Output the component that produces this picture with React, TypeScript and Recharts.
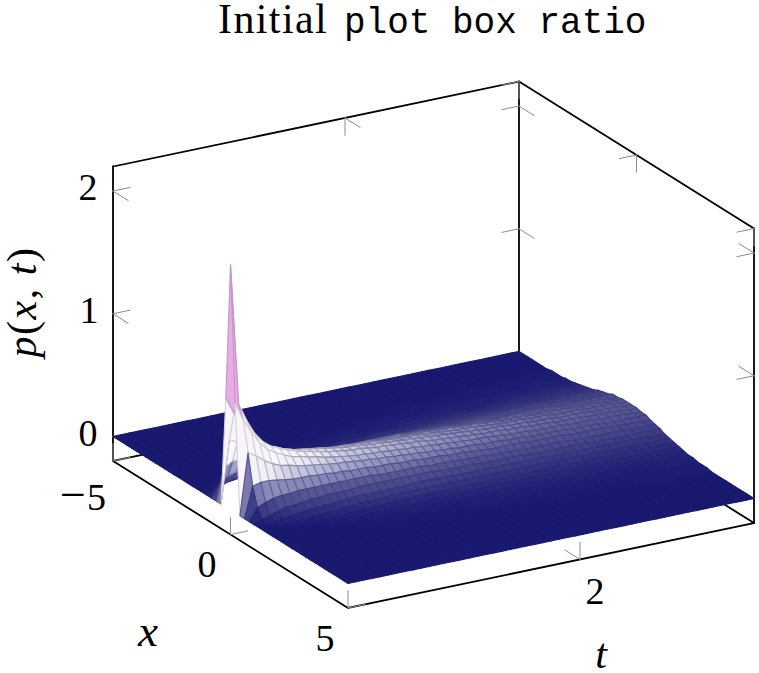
import { Scatter, ScatterChart, XAxis, YAxis } from 'recharts'

const WIDTH = 759
const HEIGHT = 673

const xTicks = [-5, 0, 5]
const tTicks = [2]
const zTicks = [0, 1, 2]

// grid of the surface
const xValues = [
  -5, -4.8, -4.6, -4.4, -4.2, -4, -3.8, -3.6, -3.4, -3.2, -3, -2.8, -2.6, -2.4, -2.2, -2, -1.8,
  -1.6, -1.4, -1.2, -1, -0.8, -0.6, -0.4, -0.2, 0, 0.2, 0.4, 0.6, 0.8, 1, 1.2, 1.4, 1.6, 1.8,
  2, 2.2, 2.4, 2.6, 2.8, 3, 3.2, 3.4, 3.6, 3.8, 4, 4.2, 4.4, 4.6, 4.8, 5,
]
const tValues = [
  0, 0.07, 0.14, 0.21, 0.28, 0.35, 0.42, 0.49, 0.56, 0.63,
  0.7, 0.77, 0.84, 0.91, 0.98, 1.05, 1.12, 1.19, 1.26, 1.33,
  1.4, 1.47, 1.54, 1.61, 1.68, 1.75, 1.82, 1.89, 1.96, 2.03,
  2.1, 2.17, 2.24, 2.31, 2.38, 2.45, 2.52, 2.59, 2.66, 2.73,
  2.8, 2.87, 2.94, 3.01, 3.08, 3.15, 3.22, 3.29, 3.36, 3.43, 3.5,
]

// p(x,t), in hundredths, one list per x
const flat = tValues.map(() => 0)
const pM36 = [0,0,0,0,0,0,0,0,0,0, 0,0,0,0,0,0,0,0,0,0, 0,0,0,0,0,0,0,0,0,0, 0,0,0,0,0,0,0,0,0,0, 0,0,0,0,0,1,1,1,1,1,1]
const pM34 = [0,0,0,0,0,0,0,0,0,0, 0,0,0,0,0,0,0,0,0,0, 0,0,0,0,0,0,0,0,0,0, 0,0,0,0,0,0,0,0,1,1, 1,1,1,1,1,1,1,1,1,1,1]
const pM32 = [0,0,0,0,0,0,0,0,0,0, 0,0,0,0,0,0,0,0,0,0, 0,0,0,0,0,0,0,0,0,0, 0,1,1,1,1,1,1,1,1,1, 1,1,1,1,1,1,1,1,1,1,1]
const pM30 = [0,0,0,0,0,0,0,0,0,0, 0,0,0,0,0,0,0,0,0,0, 0,0,0,0,0,1,1,1,1,1, 1,1,1,1,1,1,1,1,1,1, 1,1,1,1,1,1,2,2,2,2,2]
const pM28 = [0,0,0,0,0,0,0,0,0,0, 0,0,0,0,0,0,0,0,0,0, 0,1,1,1,1,1,1,1,1,1, 1,1,1,1,2,2,2,2,2,2, 2,2,2,2,2,2,2,2,2,2,2]
const pM26 = [0,0,0,0,0,0,0,0,0,0, 0,0,0,0,0,0,0,0,1,1, 1,1,1,1,1,1,2,2,2,2, 2,2,2,2,2,2,2,2,2,2, 2,3,3,3,3,3,3,3,3,3,3]
const pM24 = [0,0,0,0,0,0,0,0,0,0, 0,0,0,1,1,1,1,1,1,1, 2,2,2,2,2,2,2,2,3,3, 3,3,3,3,3,3,3,3,3,3, 3,3,4,4,4,4,4,4,4,4,4]
const pM22 = [0,0,0,0,0,0,0,0,0,0, 1,1,1,1,1,1,1,1,2,2, 2,2,2,2,3,3,3,3,4,4, 4,4,4,4,4,4,4,4,4,5, 5,5,5,5,5,5,5,5,5,5,5]
const pM20 = [0,0,0,0,0,0,0,0,1,1, 1,1,2,2,2,2,3,3,3,4, 4,4,4,5,5,5,5,5,5,5, 5,5,6,6,6,6,6,6,6,6, 6,6,6,6,6,6,6,6,6,6,6]
const pM18 = [0,0,0,0,0,0,1,1,1,1, 2,2,3,3,4,4,4,5,5,5, 5,5,6,6,6,6,6,6,6,7, 7,7,7,7,7,7,7,7,7,7, 7,7,7,7,7,7,7,7,7,7,7]
const pM16 = [0,0,0,0,1,1,2,2,3,3, 4,4,5,5,6,6,6,7,7,7, 8,8,8,8,8,8,8,8,9,9, 9,9,9,9,9,9,9,9,9,9, 9,9,9,9,9,9,9,9,9,9,9]
const pM14 = [0,0,0,1,2,3,4,5,5,6, 7,7,8,8,9,9,9,10,10,10, 10,10,11,11,11,11,11,11,11,11, 11,11,11,11,11,11,11,11,11,11, 11,11,11,11,10,10,10,10,10,10,10]
const pM12 = [0,1,2,4,5,6,7,8,9,9, 10,10,11,11,12,12,12,13,13,13, 13,13,13,14,14,14,14,14,13,13, 13,13,13,13,13,13,13,12,12,12, 12,12,12,12,12,12,11,11,11,11,11]
const pM10 = [0,3,6,9,10,11,13,13,14,15, 15,15,16,16,16,16,17,17,17,17, 17,17,17,16,16,16,16,16,16,15, 15,15,15,15,15,14,14,14,14,14, 14,14,14,13,13,13,13,13,13,13,13]
const pM08 = [0,10,15,17,18,19,20,20,20,20, 21,21,20,20,20,20,20,20,20,20, 20,20,20,20,19,19,19,18,18,18, 17,17,17,17,16,16,16,16,16,15, 15,15,15,15,14,14,14,14,14,13,13]
const pM06 = [0,26,30,30,29,28,28,27,27,26, 26,25,25,25,24,24,24,23,23,23, 22,22,22,21,21,21,21,20,20,20, 19,19,19,18,18,17,17,17,17,16, 16,16,16,16,15,15,15,15,14,14,14]
const pM04 = [0,51,48,43,40,37,35,34,32,32, 31,30,29,28,27,27,26,26,25,25, 24,24,23,23,23,22,22,21,21,20, 20,20,19,19,18,18,18,18,17,17, 17,16,16,16,16,15,15,15,15,14,14]
const pM02 = [89,75,64,54,47,43,41,38,36,34, 33,32,31,30,29,28,28,27,26,26, 25,25,24,24,23,23,22,22,21,21, 20,20,19,19,19,18,18,18,17,17, 17,16,16,16,16,15,15,15,15,14,14]
const pZero = [200,85,70,58,50,45,42,39,37,35, 34,32,31,30,29,28,28,27,26,26, 25,25,24,24,23,22,22,21,21,20, 20,19,19,19,18,18,18,17,17,17, 16,16,16,16,15,15,15,15,14,14,14]
const pP02 = [89,74,63,53,46,42,39,36,35,33, 32,30,29,28,27,26,26,25,25,24, 24,23,23,22,22,21,21,20,20,19, 19,19,18,18,17,17,17,16,16,16, 16,15,15,15,15,14,14,14,14,13,13]
const pP04 = [0,50,46,41,37,34,33,31,30,29, 28,27,26,26,25,24,24,23,23,22, 22,21,21,20,20,19,19,18,18,18, 17,17,17,16,16,16,15,15,15,15, 15,14,14,14,14,13,13,13,13,13,13]
const pP06 = [0,25,27,27,26,25,24,24,24,23, 23,22,22,21,21,21,20,20,20,19, 19,19,18,18,18,17,17,17,16,16, 15,15,15,15,15,14,14,14,14,14, 13,13,13,13,13,12,12,12,12,11,11]
const pP08 = [0,10,13,15,16,16,17,17,17,17, 17,17,17,17,17,17,16,16,16,16, 16,16,15,15,15,15,14,14,14,14, 13,13,13,13,12,12,12,12,12,12, 11,11,11,11,11,11,11,10,10,10,10]
const pP10 = [0,3,5,7,9,9,10,11,11,12, 12,12,12,13,13,13,13,13,13,13, 13,13,13,12,12,12,12,12,11,11, 11,11,11,11,10,10,10,10,10,10, 10,10,9,9,9,9,9,9,9,9,9]
const pP12 = [0,1,2,3,4,5,6,6,7,7, 8,8,9,9,9,9,9,9,9,10, 10,10,10,10,9,9,9,9,9,9, 9,9,9,9,9,9,8,8,8,8, 8,8,8,8,8,8,8,8,7,7,7]
const pP14 = [0,0,0,1,2,2,3,3,4,4, 5,5,6,6,6,6,7,7,7,7, 7,7,7,7,7,7,7,7,7,7, 7,7,7,7,7,7,7,7,7,7, 7,7,7,6,6,6,6,6,6,6,6]
const pP16 = [0,0,0,0,1,1,1,2,2,2, 3,3,3,4,4,4,4,5,5,5, 5,5,5,5,5,5,5,5,5,5, 5,5,5,5,5,5,5,5,5,5, 5,5,5,5,5,5,5,5,5,5,5]
const pP18 = [0,0,0,0,0,0,0,1,1,1, 1,1,2,2,2,2,2,3,3,3, 3,3,3,4,4,4,4,4,4,4, 4,4,4,4,4,4,4,4,4,4, 4,4,4,4,4,4,4,4,4,4,4]
const pP20 = [0,0,0,0,0,0,0,0,0,1, 1,1,1,1,1,1,2,2,2,2, 2,2,2,2,2,2,2,3,3,3, 3,3,3,3,3,3,3,3,3,3, 3,3,3,3,3,3,3,3,3,3,3]
const pP22 = [0,0,0,0,0,0,0,0,0,0, 0,0,1,1,1,1,1,1,1,1, 1,1,1,2,2,2,2,2,2,2, 2,2,2,2,2,2,2,2,2,2, 2,2,2,2,2,2,2,2,2,2,2]
const pP24 = [0,0,0,0,0,0,0,0,0,0, 0,0,0,0,0,0,0,1,1,1, 1,1,1,1,1,1,1,1,1,1, 1,1,1,1,1,1,1,1,1,1, 1,1,1,1,1,2,2,2,2,2,2]
const pP26 = [0,0,0,0,0,0,0,0,0,0, 0,0,0,0,0,0,0,0,0,0, 0,0,1,1,1,1,1,1,1,1, 1,1,1,1,1,1,1,1,1,1, 1,1,1,1,1,1,1,1,1,1,1]
const pP28 = [0,0,0,0,0,0,0,0,0,0, 0,0,0,0,0,0,0,0,0,0, 0,0,0,0,0,0,0,0,0,0, 0,1,1,1,1,1,1,1,1,1, 1,1,1,1,1,1,1,1,1,1,1]
const pP30 = [0,0,0,0,0,0,0,0,0,0, 0,0,0,0,0,0,0,0,0,0, 0,0,0,0,0,0,0,0,0,0, 0,0,0,0,0,0,0,0,0,0, 0,0,0,1,1,1,1,1,1,1,1]
const pRows = [
  flat, flat, flat, flat, flat, flat, flat,
  pM36, pM34, pM32, pM30, pM28, pM26, pM24, pM22, pM20, pM18, pM16, pM14, pM12, pM10, pM08, pM06, pM04, pM02,
  pZero,
  pP02, pP04, pP06, pP08, pP10, pP12, pP14, pP16, pP18, pP20, pP22, pP24, pP26, pP28, pP30,
  flat, flat, flat, flat, flat, flat, flat, flat, flat, flat,
]

// view of the box
const X_MIN = -5, X_MAX = 5, T_MAX = 3.5, Z_MIN = -0.2, Z_MAX = 2.2
const project = (x: number, t: number, z: number) => ({
  sx: 113 + ((x - X_MIN) / 10) * 235 + (t / T_MAX) * 406,
  sy: 461 + ((x - X_MIN) / 10) * 147 - (t / T_MAX) * 85 - (z - Z_MIN) * 122.7,
})

const stops: [number, number[]][] = [
  [0, [25, 25, 112]],
  [0.15, [90, 90, 150]],
  [0.22, [150, 150, 195]],
  [0.32, [235, 235, 245]],
  [0.4, [248, 248, 252]],
  [0.78, [250, 238, 250]],
  [0.95, [232, 175, 232]],
  [2, [215, 155, 215]],
]
const colorAt = (p: number, dark = 1) => {
  let i = 0
  while (i < stops.length - 2 && p > stops[i + 1][0]) i++
  const [p0, c0] = stops[i]
  const [p1, c1] = stops[i + 1]
  const f = Math.min(1, (p - p0) / (p1 - p0))
  const c = c0.map((v, k) => Math.round((v + (c1[k] - v) * f) * dark))
  return `rgb(${c[0]},${c[1]},${c[2]})`
}

// cells far to near, four corners each
const surfacePoints: { sx: number; sy: number }[] = []
const cellFills: string[] = []
const cellStrokes: string[] = []
for (let j = tValues.length - 2; j >= 0; j--) {
  for (let i = 0; i < xValues.length - 1; i++) {
    const corners: [number, number][] = [[i, j], [i + 1, j], [i + 1, j + 1], [i, j + 1]]
    let sum = 0
    corners.forEach(([a, b]) => {
      const p = pRows[a][b] / 100
      sum += p
      surfacePoints.push(project(xValues[a], tValues[b], p))
    })
    const mean = sum / 4
    cellFills.push(colorAt(mean))
    cellStrokes.push(colorAt(mean * 0.85, 1 - Math.min(0.15, mean * 0.6)))
  }
}

const seg = (a: [number, number, number], b: [number, number, number]) => [
  project(a[0], a[1], a[2]),
  project(b[0], b[1], b[2]),
]

const backEdges = [
  ...seg([X_MIN, 0, Z_MIN], [X_MIN, 0, Z_MAX]),
  ...seg([X_MIN, 0, Z_MAX], [X_MIN, T_MAX, Z_MAX]),
  ...seg([X_MIN, T_MAX, Z_MAX], [X_MAX, T_MAX, Z_MAX]),
  ...seg([X_MIN, T_MAX, Z_MIN], [X_MIN, T_MAX, Z_MAX]),
  ...seg([X_MAX, T_MAX, Z_MIN], [X_MAX, T_MAX, Z_MAX]),
  ...seg([X_MIN, 0, Z_MIN], [X_MIN, T_MAX, Z_MIN]),
  ...seg([X_MIN, T_MAX, Z_MIN], [X_MAX, T_MAX, Z_MIN]),
  ...seg([X_MIN, 0, Z_MIN], [X_MAX, 0, Z_MIN]),
  ...seg([X_MAX, 0, Z_MIN], [X_MAX, T_MAX, Z_MIN]),
]

const T_LEN = 0.147, X_LEN = 0.64, Z_LEN = 0.14
const tickMarks = [
  ...zTicks.flatMap((z) => [
    ...seg([X_MIN, 0, z], [X_MIN, T_LEN, z]),
    ...seg([X_MIN, 0, z], [X_MIN + X_LEN, 0, z]),
    ...seg([X_MIN, T_MAX, z], [X_MIN, T_MAX - T_LEN, z]),
    ...seg([X_MIN, T_MAX, z], [X_MIN + X_LEN, T_MAX, z]),
    ...seg([X_MAX, T_MAX, z], [X_MAX, T_MAX - T_LEN, z]),
    ...seg([X_MAX, T_MAX, z], [X_MAX - X_LEN, T_MAX, z]),
  ]),
  ...xTicks.flatMap((x) => [
    ...seg([x, 0, Z_MIN], [x, 0, Z_MIN + Z_LEN]),
    ...seg([x, 0, Z_MIN], [x, T_LEN, Z_MIN]),
    ...seg([x, T_MAX, Z_MAX], [x, T_MAX, Z_MAX - Z_LEN]),
    ...seg([x, T_MAX, Z_MAX], [x, T_MAX - T_LEN, Z_MAX]),
  ]),
  ...tTicks.flatMap((t) => [
    ...seg([X_MAX, t, Z_MIN], [X_MAX, t, Z_MIN + Z_LEN]),
    ...seg([X_MAX, t, Z_MIN], [X_MAX - X_LEN, t, Z_MIN]),
    ...seg([X_MIN, t, Z_MAX], [X_MIN, t, Z_MAX - Z_LEN]),
    ...seg([X_MIN, t, Z_MAX], [X_MIN + X_LEN, t, Z_MAX]),
  ]),
]

const noDot = () => <g />

const drawCells = (props: any) => {
  const pts = props.points
  const cells = []
  for (let c = 0; c < cellFills.length; c++) {
    const q = pts.slice(c * 4, c * 4 + 4)
    const d = q.map((p: any, n: number) => `${n ? 'L' : 'M'}${p.x} ${p.y}`).join('') + 'Z'
    cells.push(<path key={c} d={d} fill={cellFills[c]} stroke={cellStrokes[c]} strokeWidth={1.1} strokeLinejoin="round" />)
  }
  return <g>{cells}</g>
}

const drawSegments = (stroke: string, width: number) => (props: any) => {
  const pts = props.points
  let d = ''
  for (let n = 0; n + 1 < pts.length; n += 2) {
    d += `M${pts[n].x} ${pts[n].y}L${pts[n + 1].x} ${pts[n + 1].y}`
  }
  return <path d={d} fill="none" stroke={stroke} strokeWidth={width} strokeLinecap="square" />
}

const SERIF = '"Liberation Serif", serif'
const MONO = '"Liberation Mono", monospace'

export default function App() {
  return (
    <div style={{ position: 'absolute', left: 0, top: 0, width: WIDTH, height: HEIGHT, background: '#fff' }}>
      <ScatterChart width={WIDTH} height={HEIGHT} margin={{ top: 0, right: 0, bottom: 0, left: 0 }}>
        <XAxis type="number" dataKey="sx" domain={[0, WIDTH]} hide />
        <YAxis type="number" dataKey="sy" domain={[0, HEIGHT]} reversed hide />
        <Scatter data={backEdges} shape={noDot} line={drawSegments('#000', 1.8)} isAnimationActive={false} />
        <Scatter data={tickMarks} shape={noDot} line={drawSegments('#8c8c8c', 1)} isAnimationActive={false} />
        <Scatter data={surfacePoints} shape={noDot} line={drawCells} isAnimationActive={false} />

        <g fontFamily={SERIF} fontSize={38} fill="#000">
          <text x={218} y={33} fontSize={42} letterSpacing={1.4}>Initial</text>
          <text x={344} y={33} fontFamily={MONO} fontSize={36}>plot box ratio</text>
          <text x={88} y={200} textAnchor="middle">2</text>
          <text x={89} y={323} textAnchor="middle">1</text>
          <text x={88} y={446} textAnchor="middle">0</text>
          <text x={60} y={510} letterSpacing={1} fontSize={38}>
            <tspan dx={0} fontSize={46}>−</tspan>5
          </text>
          <text x={207} y={577} textAnchor="middle">0</text>
          <text x={325} y={651} textAnchor="middle">5</text>
          <text x={595} y={604} textAnchor="middle">2</text>
          <text x={148} y={646} textAnchor="middle" fontStyle="italic" fontSize={45}>x</text>
          <text x={601} y={668} textAnchor="middle" fontStyle="italic" fontSize={42}>t</text>
          <text transform="translate(36 302) rotate(-90)" textAnchor="middle" fontSize={42} letterSpacing={1.5}>
            <tspan fontStyle="italic">p</tspan>(<tspan fontStyle="italic">x</tspan>, <tspan fontStyle="italic">t</tspan>)
          </text>
        </g>
      </ScatterChart>
    </div>
  )
}
